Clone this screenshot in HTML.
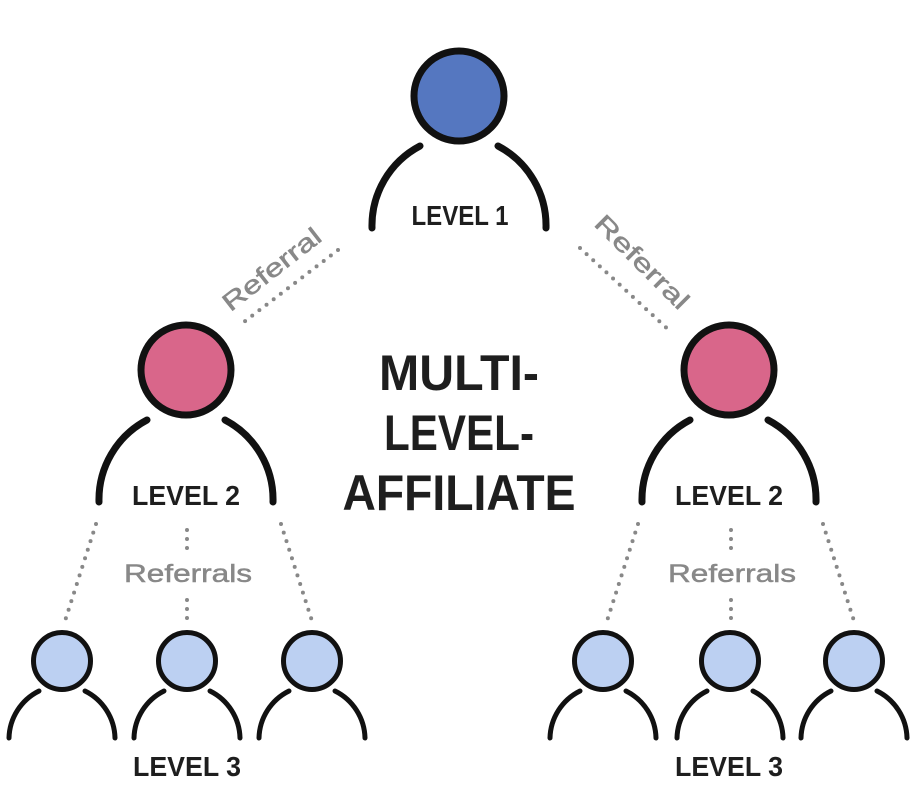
<!DOCTYPE html>
<html><head><style>
html,body{margin:0;padding:0;background:#fff;width:920px;height:796px;overflow:hidden}
svg{display:block}
.t{font-family:"Liberation Sans",sans-serif;font-weight:bold;fill:#1e1e1e}
.g{font-family:"Liberation Sans",sans-serif;fill:#888;stroke:#888;stroke-width:0.5}
.d{stroke:#888;stroke-width:4;stroke-linecap:round;stroke-dasharray:0 9;fill:none}
.s{fill:none;stroke:#111;stroke-linecap:round}
</style></head><body>
<svg width="920" height="796" viewBox="0 0 920 796" xmlns="http://www.w3.org/2000/svg">
<defs>
<g id="big">
<circle cx="0" cy="0" r="45" stroke="#111" stroke-width="7"/>
<path class="s" stroke-width="7" d="M-39,50 A90 90 0 0 0 -87,132 M39,50 A90 90 0 0 1 87,132"/>
</g>
<g id="sm">
<circle cx="0" cy="0" r="28.5" fill="#bcd0f2" stroke="#111" stroke-width="5"/>
<path class="s" stroke-width="5" d="M-23,30 A54 54 0 0 0 -53,77 M23,30 A54 54 0 0 1 53,77"/>
</g>
</defs>

<!-- Level 1 -->
<g transform="translate(459,96)" fill="#5577c0"><use href="#big"/></g>
<text class="t" x="460" y="225" font-size="28" text-anchor="middle" textLength="97" lengthAdjust="spacingAndGlyphs">LEVEL 1</text>

<!-- Level 2 -->
<g transform="translate(186,370)" fill="#d9668a"><use href="#big"/></g>
<g transform="translate(729,370)" fill="#d9668a"><use href="#big"/></g>
<text class="t" x="186" y="505" font-size="28" text-anchor="middle" textLength="108" lengthAdjust="spacingAndGlyphs">LEVEL 2</text>
<text class="t" x="729" y="505" font-size="28" text-anchor="middle" textLength="108" lengthAdjust="spacingAndGlyphs">LEVEL 2</text>

<!-- top dotted -->
<line class="d" x1="338" y1="250" x2="240" y2="325"/>
<line class="d" x1="580" y1="248" x2="672" y2="333"/>
<text class="g" font-size="25" text-anchor="middle" textLength="118" lengthAdjust="spacingAndGlyphs" transform="translate(277,276) rotate(-38)">Referral</text>
<text class="g" font-size="25" text-anchor="middle" textLength="122" lengthAdjust="spacingAndGlyphs" transform="translate(636,268) rotate(45)">Referral</text>

<!-- center title -->
<text class="t" x="459" y="390" font-size="50" text-anchor="middle" textLength="160" lengthAdjust="spacingAndGlyphs">MULTI-</text>
<text class="t" x="459" y="450" font-size="50" text-anchor="middle" textLength="150" lengthAdjust="spacingAndGlyphs">LEVEL-</text>
<text class="t" x="459" y="510" font-size="50" text-anchor="middle" textLength="233" lengthAdjust="spacingAndGlyphs">AFFILIATE</text>

<!-- left lower -->
<line class="d" x1="96" y1="524" x2="65" y2="621"/>
<line class="d" x1="187" y1="530" x2="187" y2="552"/>
<line class="d" x1="187" y1="600" x2="187" y2="620"/>
<line class="d" x1="281" y1="524" x2="312" y2="621"/>
<text class="g" x="188" y="582" font-size="25" text-anchor="middle" textLength="128" lengthAdjust="spacingAndGlyphs">Referrals</text>
<use href="#sm" x="62" y="661"/>
<use href="#sm" x="187" y="661"/>
<use href="#sm" x="312" y="661"/>
<text class="t" x="187" y="776" font-size="28" text-anchor="middle" textLength="108" lengthAdjust="spacingAndGlyphs">LEVEL 3</text>

<!-- right lower -->
<line class="d" x1="638" y1="524" x2="607" y2="621"/>
<line class="d" x1="731" y1="530" x2="731" y2="552"/>
<line class="d" x1="731" y1="600" x2="731" y2="620"/>
<line class="d" x1="823" y1="524" x2="854" y2="621"/>
<text class="g" x="732" y="582" font-size="25" text-anchor="middle" textLength="128" lengthAdjust="spacingAndGlyphs">Referrals</text>
<use href="#sm" x="603" y="661"/>
<use href="#sm" x="730" y="661"/>
<use href="#sm" x="854" y="661"/>
<text class="t" x="729" y="776" font-size="28" text-anchor="middle" textLength="108" lengthAdjust="spacingAndGlyphs">LEVEL 3</text>
</svg>
</body></html>
